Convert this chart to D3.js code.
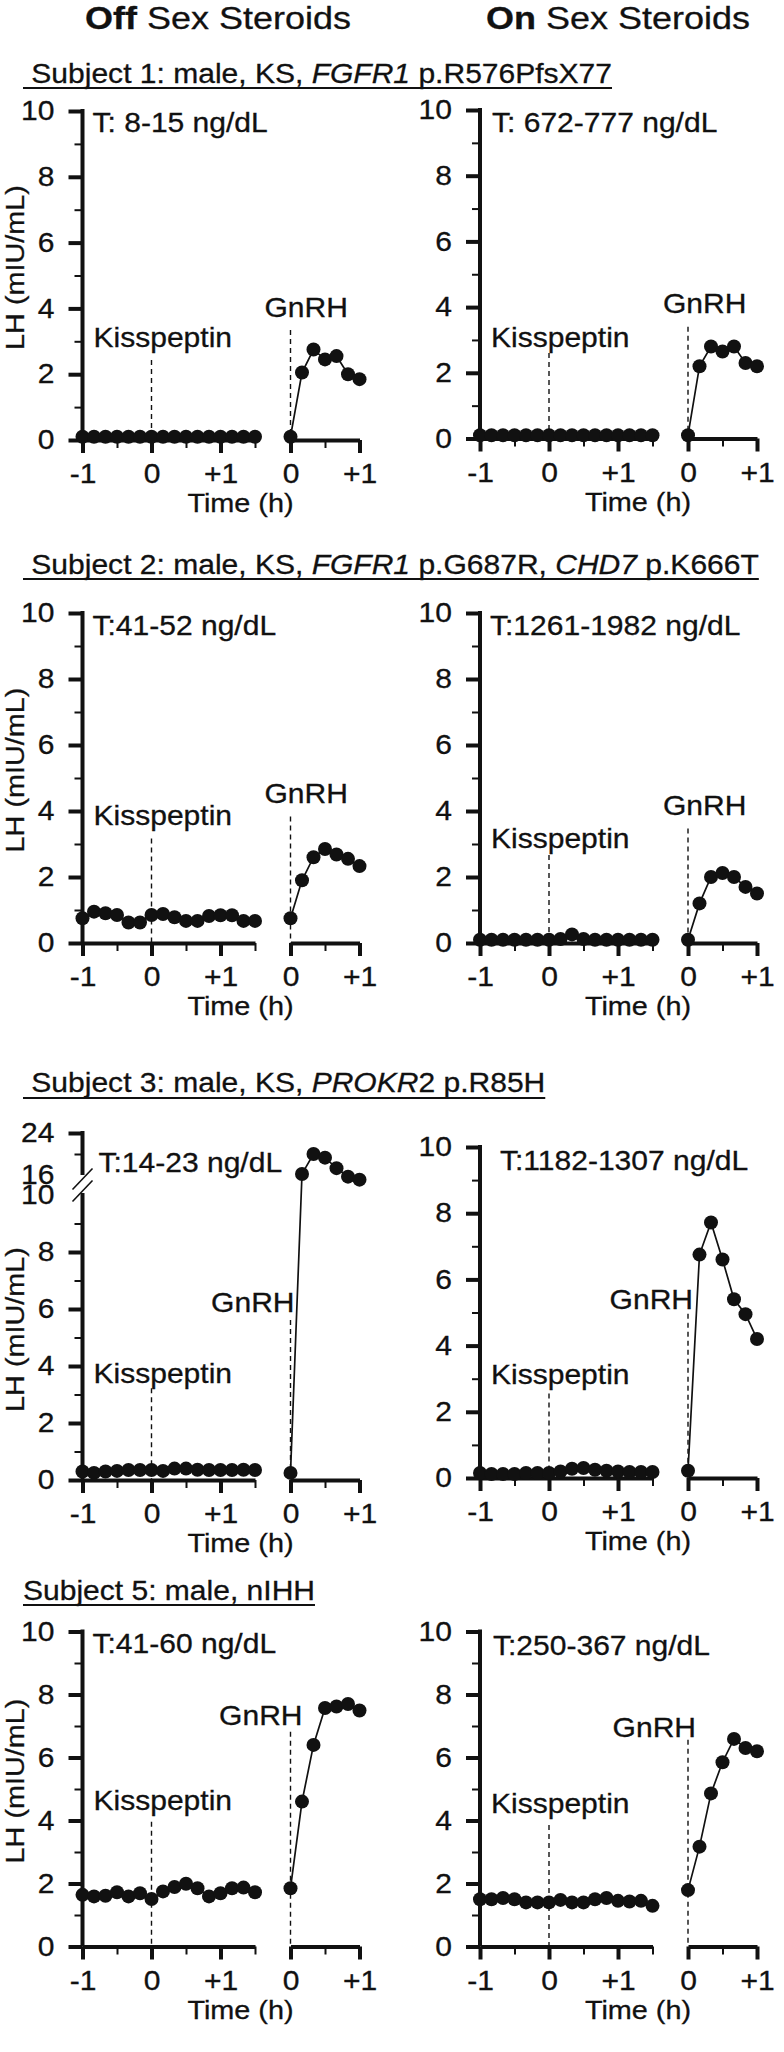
<!DOCTYPE html>
<html>
<head>
<meta charset="utf-8">
<script src="https://cdn.jsdelivr.net/npm/d3@7"></script>
<style>
  body { margin: 0; background: #fff; }
  svg { display: block; font-family: "Liberation Sans", Arial, Helvetica, sans-serif; }
  text { white-space: pre; stroke: #111; stroke-width: 0.3px; }
</style>
</head>
<body>
<svg id="chart" width="784" height="2052"></svg>
<script>
// ---------------- DATA ----------------
const columnTitles = [[["Off", "b"], [" Sex Steroids"]], [["On", "b"], [" Sex Steroids"]]];

const subjectTitles = [
  [[" Subject 1: male, KS, "], ["FGFR1", "i"], [" p.R576PfsX77"]],
  [[" Subject 2: male, KS, "], ["FGFR1", "i"], [" p.G687R, "], ["CHD7", "i"], [" p.K666T"]],
  [[" Subject 3: male, KS, "], ["PROKR", "i"], ["2 p.R85H"]],
  [["Subject 5: male, nIHH"]]
];

const testosteroneLabels = [
  "T: 8-15 ng/dL", "T: 672-777 ng/dL",
  "T:41-52 ng/dL", "T:1261-1982 ng/dL",
  "T:14-23 ng/dL", "T:1182-1307 ng/dL",
  "T:41-60 ng/dL", "T:250-367 ng/dL"
];

// sampling times (minutes)
const kissTimes = [-60, -50, -40, -30, -20, -10, 0, 10, 20, 30, 40, 50, 60, 70, 80, 90];
const gnrhTimes = [0, 10, 20, 30, 40, 50, 60];

// tick values / labels
const yTickMajor = [0, 2, 4, 6, 8, 10];
const yTickMinor = [1, 3, 5, 7, 9];
const yBrokenMajor = [0, 2, 4, 6, 8, 10, 16, 24];
const yBrokenMinor = [1, 3, 5, 7, 9, 20];
const kissTickValues = [-60, 0, 60];
const kissTickLabels = ["-1", "0", "+1"];
const kissMinorTicks = [-30, 30, 90];
const gnrhTickValues = [0, 60];
const gnrhTickLabels = ["0", "+1"];
const gnrhMinorTicks = [30];

// LH (mIU/mL) series
const s1OffKiss = [0.1, 0.1, 0.1, 0.1, 0.1, 0.1, 0.1, 0.1, 0.1, 0.1, 0.1, 0.1, 0.1, 0.1, 0.1, 0.1];
const s1OffGnrh = [0.1, 2.05, 2.75, 2.45, 2.55, 2.0, 1.85];
const s1OnKiss  = [0.1, 0.1, 0.1, 0.1, 0.1, 0.1, 0.1, 0.1, 0.1, 0.1, 0.1, 0.1, 0.1, 0.1, 0.1, 0.1];
const s1OnGnrh  = [0.1, 2.2, 2.8, 2.65, 2.8, 2.3, 2.2];

const s2OffKiss = [0.75, 0.95, 0.9, 0.85, 0.62, 0.62, 0.85, 0.88, 0.78, 0.67, 0.67, 0.82, 0.84, 0.84, 0.67, 0.67];
const s2OffGnrh = [0.75, 1.9, 2.6, 2.85, 2.68, 2.55, 2.33];
const s2OnKiss  = [0.1, 0.1, 0.1, 0.1, 0.1, 0.1, 0.1, 0.12, 0.26, 0.12, 0.1, 0.1, 0.1, 0.1, 0.1, 0.1];
const s2OnGnrh  = [0.1, 1.2, 2.0, 2.12, 2.0, 1.7, 1.5];

const s3OffKiss = [0.3, 0.25, 0.3, 0.32, 0.35, 0.35, 0.35, 0.32, 0.4, 0.4, 0.36, 0.35, 0.35, 0.35, 0.36, 0.35];
const s3OffGnrh = [0.25, 16.2, 20.0, 19.3, 17.3, 15.5, 14.6];
const s3OnKiss  = [0.15, 0.12, 0.12, 0.12, 0.15, 0.15, 0.15, 0.2, 0.28, 0.3, 0.25, 0.22, 0.2, 0.18, 0.18, 0.18];
const s3OnGnrh  = [0.22, 6.75, 7.72, 6.6, 5.4, 4.95, 4.2];

const s5OffKiss = [1.64, 1.59, 1.61, 1.72, 1.59, 1.69, 1.51, 1.75, 1.89, 1.99, 1.85, 1.59, 1.69, 1.85, 1.87, 1.72];
const s5OffGnrh = [1.85, 4.6, 6.4, 7.57, 7.62, 7.7, 7.49];
const s5OnKiss  = [1.5, 1.5, 1.54, 1.5, 1.4, 1.4, 1.4, 1.48, 1.4, 1.4, 1.5, 1.54, 1.45, 1.43, 1.45, 1.29];
const s5OnGnrh  = [1.79, 3.17, 4.86, 5.85, 6.59, 6.3, 6.2];

// ---------------- LAYOUT ----------------
const SX = 1.1;            // horizontal stretch of the lettering
const INK = "#111";
const FS = 27.3;           // general font size

const headerPos = [{ x: 218, y: 29 }, { x: 618, y: 29 }];
const titlePos = [
  { x: 23, y: 83, u: 88 },
  { x: 23, y: 574, u: 579 },
  { x: 23, y: 1092, u: 1098 },
  { x: 23, y: 1600, u: 1605 }
];

const panels = [
  { kiss: s1OffKiss, gnrh: s1OffGnrh, t: 0, left: true,  ox: 82.5, y0: 440,    y10: 111,   tY: 132,  tDx: 10, kL: 2.84, kT: 2.43, gL: 3.75, gT: 3.34, gA: "start", gDx: -26 },
  { kiss: s1OnKiss,  gnrh: s1OnGnrh,  t: 1, left: false, ox: 480,  y0: 438.5,  y10: 110,   tY: 132,  tDx: 12, kL: 2.79, kT: 2.6,  gL: 3.82, gT: 3.4,  gA: "start", gDx: -25 },
  { kiss: s2OffKiss, gnrh: s2OffGnrh, t: 2, left: true,  ox: 82.5, y0: 943,    y10: 613,   tY: 635,  tDx: 10, kL: 3.58, kT: 3.17, gL: 4.23, gT: 3.83, gA: "start", gDx: -26 },
  { kiss: s2OnKiss,  gnrh: s2OnGnrh,  t: 3, left: false, ox: 480,  y0: 943,    y10: 613,   tY: 635,  tDx: 10, kL: 2.87, kT: 2.67, gL: 3.88, gT: 3.47, gA: "start", gDx: -25 },
  { kiss: s3OffKiss, gnrh: s3OffGnrh, t: 4, left: true,  ox: 82.5, y0: 1480,   y10: 1195, y16: 1175, y24: 1133, broken: true,
    tY: 1172, tDx: 16, kL: 3.39, kT: 3.22, gL: 5.91, gT: 5.61, gA: "end", gDx: 4 },
  { kiss: s3OnKiss,  gnrh: s3OnGnrh,  t: 5, left: false, ox: 480,  y0: 1478,   y10: 1147,  tY: 1170, tDx: 20, kL: 2.85, kT: 2.55, gL: 5.11, gT: 4.96, gA: "end", gDx: 5 },
  { kiss: s5OffKiss, gnrh: s5OffGnrh, t: 6, left: true,  ox: 82.5, y0: 1946.5, y10: 1631.5, tY: 1653, tDx: 10, kL: 4.33, kT: 3.96, gL: 7.03, gT: 6.82, gA: "end", gDx: 12 },
  { kiss: s5OnKiss,  gnrh: s5OnGnrh,  t: 7, left: false, ox: 480,  y0: 1946.5, y10: 1631.5, tY: 1655, tDx: 13, kL: 4.23, kT: 3.86, gL: 6.66, gT: 6.56, gA: "end", gDx: 8 }
];

// ---------------- DRAW ----------------
const svg = d3.select("#chart");
svg.append("rect").attr("width", 784).attr("height", 2052).attr("fill", "#fff");

function label(g, x, y, parts, size, anchor, rotate, sx) {
  const k = sx || SX;
  const t = g.append("text")
    .attr("transform", `translate(${x},${y})${rotate ? ` rotate(${rotate})` : ""} scale(${k},1)`)
    .attr("font-size", size)
    .attr("text-anchor", anchor || "start")
    .attr("fill", INK);
  (Array.isArray(parts) ? parts : [[parts]]).forEach(p => {
    const s = t.append("tspan").text(p[0]);
    if (p[1] === "b") s.attr("font-weight", "bold");
    if (p[1] === "i") s.attr("font-style", "italic");
  });
  return t;
}

function stretchAxisText(axisG, size) {
  axisG.attr("font-size", null).attr("font-family", null);
  axisG.selectAll("text").each(function () {
    const s = d3.select(this);
    const x = +s.attr("x") || 0, y = +s.attr("y") || 0;
    s.attr("x", null).attr("y", null)
      .attr("transform", `translate(${x},${y}) scale(${SX},1)`)
      .attr("font-size", size).attr("fill", INK);
  });
}

// column headers
columnTitles.forEach((parts, i) => label(svg, headerPos[i].x, headerPos[i].y, parts, 30.5, "middle", 0, 1.18));

// subject titles (underlined)
subjectTitles.forEach((parts, i) => {
  const p = titlePos[i];
  const t = label(svg, p.x, p.y, parts, FS, "start");
  const len = t.node().getComputedTextLength() * SX;
  svg.append("line").attr("x1", p.x).attr("x2", p.x + len)
    .attr("y1", p.u).attr("y2", p.u).attr("stroke", INK).attr("stroke-width", 2);
});

panels.forEach(p => {
  const g = svg.append("g");
  const xk = d3.scaleLinear().domain([kissTimes[0], kissTimes[kissTimes.length - 1]]).range([p.ox, p.ox + 172.5]);
  const xg = d3.scaleLinear().domain([gnrhTimes[0], gnrhTimes[gnrhTimes.length - 1]]).range([p.ox + 208, p.ox + 277]);
  const y = p.broken
    ? d3.scaleLinear().domain([0, 10, 16, 24]).range([p.y0, p.y10, p.y16, p.y24])
    : d3.scaleLinear().domain([0, 10]).range([p.y0, p.y10]);

  // ---- y axis ----
  const major = p.broken ? yBrokenMajor : yTickMajor;
  const minor = p.broken ? yBrokenMinor : yTickMinor;
  const yMaj = g.append("g").attr("transform", `translate(${p.ox},0)`)
    .call(d3.axisLeft(y).tickValues(major).tickSize(14).tickPadding(14).tickSizeOuter(0));
  yMaj.select(".domain").remove();
  yMaj.selectAll(".tick line").attr("stroke", INK).attr("stroke-width", 4)
    .filter(d => p.broken && (d === 10 || d === 16)).remove();
  stretchAxisText(yMaj, FS);

  const yMin = g.append("g").attr("transform", `translate(${p.ox},0)`)
    .call(d3.axisLeft(y).tickValues(minor).tickSize(8).tickFormat(""));
  yMin.select(".domain").remove();
  yMin.selectAll(".tick line").attr("stroke", INK).attr("stroke-width", 2);

  if (p.broken) {
    g.append("line").attr("x1", p.ox).attr("x2", p.ox).attr("y1", y(0)).attr("y2", y(10) - 2)
      .attr("stroke", INK).attr("stroke-width", 4);
    g.append("line").attr("x1", p.ox).attr("x2", p.ox).attr("y1", y(16)).attr("y2", y(24) - 2)
      .attr("stroke", INK).attr("stroke-width", 4);
    [y(16) + 4, y(10) - 4].forEach(cy => {
      g.append("line").attr("x1", p.ox - 10).attr("y1", cy + 10.5)
        .attr("x2", p.ox + 10).attr("y2", cy - 10.5)
        .attr("stroke", INK).attr("stroke-width", 1.6);
    });
  } else {
    g.append("line").attr("x1", p.ox).attr("x2", p.ox).attr("y1", y(0)).attr("y2", y(10) - 2)
      .attr("stroke", INK).attr("stroke-width", 4);
  }

  // ---- x axes ----
  function xAxis(scale, vals, labels, minorVals) {
    const a = g.append("g").attr("transform", `translate(0,${p.y0})`)
      .call(d3.axisBottom(scale).tickValues(vals).tickFormat((d, i) => labels[i])
        .tickSize(13).tickPadding(11).tickSizeOuter(0));
    a.select(".domain").attr("stroke", INK).attr("stroke-width", 4);
    a.selectAll(".tick line").attr("stroke", INK).attr("stroke-width", 4);
    stretchAxisText(a, FS);
    const m = g.append("g").attr("transform", `translate(0,${p.y0})`)
      .call(d3.axisBottom(scale).tickValues(minorVals).tickSize(8).tickFormat(""));
    m.select(".domain").remove();
    m.selectAll(".tick line").attr("stroke", INK).attr("stroke-width", 2);
  }
  xAxis(xk, kissTickValues, kissTickLabels, kissMinorTicks);
  xAxis(xg, gnrhTickValues, gnrhTickLabels, gnrhMinorTicks);

  // ---- dashed markers ----
  g.append("line").attr("x1", xk(0)).attr("x2", xk(0)).attr("y1", y(p.kT)).attr("y2", y(0))
    .attr("stroke", INK).attr("stroke-width", 1.4).attr("stroke-dasharray", "5,4");
  g.append("line").attr("x1", xg(0)).attr("x2", xg(0)).attr("y1", y(p.gT)).attr("y2", y(0))
    .attr("stroke", INK).attr("stroke-width", 1.4).attr("stroke-dasharray", "5,4");

  // ---- series ----
  const lk = d3.line().x((v, i) => xk(kissTimes[i])).y(v => y(v));
  const lg = d3.line().x((v, i) => xg(gnrhTimes[i])).y(v => y(v));
  g.append("path").datum(p.kiss).attr("d", lk).attr("fill", "none").attr("stroke", INK).attr("stroke-width", 1.7);
  g.append("path").datum(p.gnrh).attr("d", lg).attr("fill", "none").attr("stroke", INK).attr("stroke-width", 1.7);
  g.append("g").selectAll("circle").data(p.kiss).join("circle")
    .attr("cx", (v, i) => xk(kissTimes[i])).attr("cy", v => y(v)).attr("r", 7).attr("fill", INK);
  g.append("g").selectAll("circle").data(p.gnrh).join("circle")
    .attr("cx", (v, i) => xg(gnrhTimes[i])).attr("cy", v => y(v)).attr("r", 7).attr("fill", INK);

  // ---- text ----
  label(g, p.ox + 11, y(p.kL), "Kisspeptin", FS, "start");
  label(g, xg(0) + p.gDx, y(p.gL), "GnRH", FS, p.gA);
  label(g, p.ox + p.tDx, p.tY, testosteroneLabels[p.t], FS, "start");
  label(g, p.ox + 158, p.y0 + 72, "Time (h)", 26.2, "middle");
  if (p.left) {
    label(g, 24, (p.y0 + p.y10) / 2 - 8, "LH (mIU/mL)", 26.2, "middle", -90);
  }
});
</script>
</body>
</html>
